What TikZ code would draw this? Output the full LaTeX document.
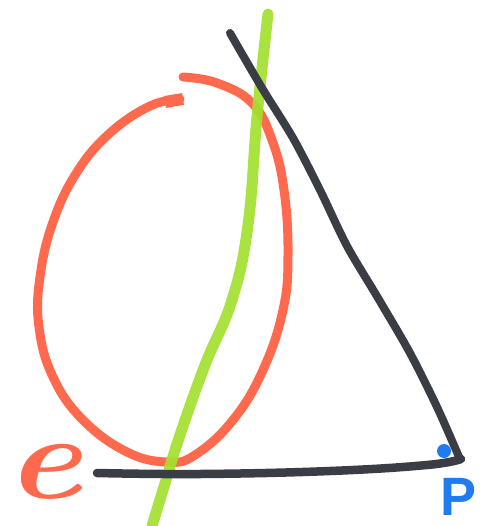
\documentclass[tikz,border=0pt]{standalone}
\usepackage{fontspec}
\newfontfamily\labfont{Liberation Sans}
\definecolor{mred}{HTML}{FF6A4F}
\definecolor{mgreen}{HTML}{A3E030}
\definecolor{mblack}{HTML}{3A3E44}
\definecolor{mblue}{HTML}{1F7BEF}
\tikzset{
  marker/.style={line cap=round, line join=round},
}
\begin{document}
\begin{tikzpicture}[x=1pt,y=-1pt]
\useasboundingbox (0,0) rectangle (484,526);
% red loop
\draw[marker, mred, line width=9pt] plot[smooth, tension=0.7] coordinates {(180,99) (150,106) (110,133) (77,172) (53,222) (40,277) (39,327) (53,377) (83,420) (127,452) (167,462) (195,455) (233,420) (263,370) (283,310) (288,255) (284,190) (272,140) (252,103) (217,83) (183,77)};
\draw[mred, line width=12pt] (165,102) -- (183,99);
% green line
\draw[marker, mgreen, line width=11pt, opacity=0.92] plot[smooth, tension=0.7] coordinates {(268,14) (257,117) (248,225) (232,300) (205,365) (180,435) (166,480) (152,526)};
% black triangle sides
\draw[marker, mblack, line width=8pt] plot[smooth, tension=0.5] coordinates {(230,33) (262,88) (293,138) (320,190) (347,246) (378,298) (410,353) (437,407) (459,457)};
\draw[marker, mblack, line width=8.5pt] plot[smooth, tension=0.7] coordinates {(461,459) (427,465) (330,471) (200,474) (97,473)};
% blue corner mark
\fill[mblue] (444,451) circle (7pt);
% labels
\node[mred, inner sep=0pt, font=\fontsize{120}{120}\selectfont\bfseries\itshape, xscale=1.2] (e) at (44,472) {e};
\node[mblue, inner sep=0pt, font=\fontsize{54}{54}\labfont\bfseries] (p) at (458,497) {P};
\end{tikzpicture}
\end{document}
